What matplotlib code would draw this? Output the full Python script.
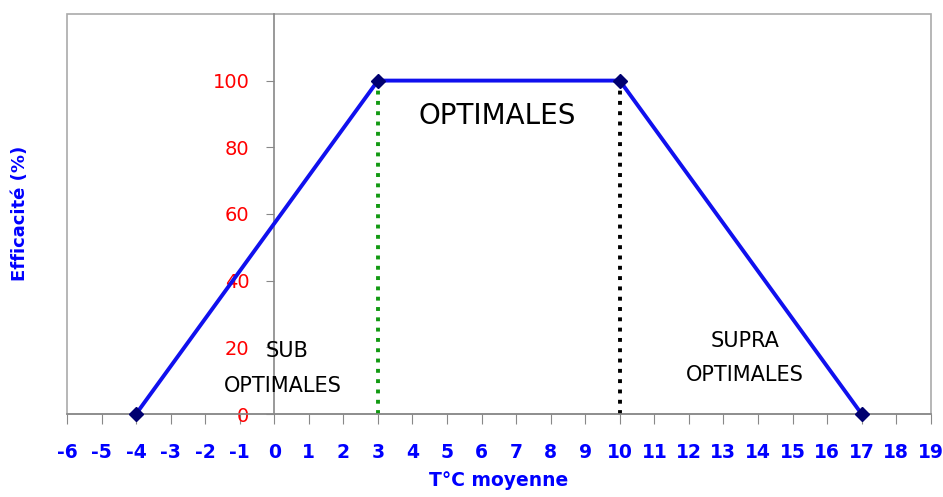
import matplotlib.pyplot as plt
from matplotlib.patches import Rectangle

# data
temp = [-4, 3, 10, 17]
efficacite = [0, 100, 100, 0]
x_ticks = list(range(-6, 20))
y_ticks = [0, 20, 40, 60, 80, 100]
opt_min = 3
opt_max = 10

plt.rcParams['axes.unicode_minus'] = False

fig = plt.figure(figsize=(9.43, 4.97), dpi=100)
ax = fig.add_axes([0.071, 0.167, 0.916, 0.805])

ax.set_xlim(-6, 19)
ax.set_ylim(0, 120)

# dotted limits of the optimal zone
ax.plot([opt_min, opt_min], [0, 100], color='#119911', linestyle=':', linewidth=2.8)
ax.plot([opt_max, opt_max], [0, 100], color='black', linestyle=':', linewidth=2.8)

# curve
ax.plot(temp, efficacite, color='#1010ee', linewidth=2.8, marker='D',
        markersize=7, markerfacecolor='#000070', markeredgecolor='#000070',
        clip_on=False, zorder=5)

# axes: y axis at x = 0, box around the plot
for s in ['top', 'right']:
    ax.spines[s].set_visible(False)
ax.spines['left'].set_position(('data', 0))
ax.spines['left'].set_color('#888888')
ax.spines['bottom'].set_color('#888888')
ax.spines['left'].set_linewidth(1.2)
ax.spines['bottom'].set_linewidth(1.2)
ax.add_patch(Rectangle((0, 0), 1, 1, transform=ax.transAxes, fill=False,
                       edgecolor='#aaaaaa', linewidth=1.2, clip_on=False))

ax.set_xticks(x_ticks)
ax.set_yticks(y_ticks)
ax.tick_params(axis='x', direction='out', length=7, color='#888888', pad=14,
               labelsize=13.5, labelcolor='#0000ff')
ax.tick_params(axis='y', direction='out', length=6, color='#888888', pad=12,
               labelsize=14, labelcolor='#ff0000')
for lab in ax.get_xticklabels():
    lab.set_fontweight('bold')

ax.set_xlabel('T°C moyenne', color='#0000ff', fontsize=13.5, fontweight='bold', labelpad=6)
fig.text(0.021, 0.57, 'Efficacité (%)', color='#0000ff', fontsize=13, fontweight='bold',
         rotation=90, ha='center', va='center')

# zone labels
ax.text(6.45, 89.5, 'OPTIMALES', fontsize=20, ha='center', va='center')
ax.text(0.38, 19, 'SUB', fontsize=15, ha='center', va='center')
ax.text(0.26, 8.4, 'OPTIMALES', fontsize=15, ha='center', va='center')
ax.text(13.63, 22, 'SUPRA', fontsize=15, ha='center', va='center')
ax.text(13.63, 11.7, 'OPTIMALES', fontsize=15, ha='center', va='center')

fig.savefig('out.png', dpi=100)
